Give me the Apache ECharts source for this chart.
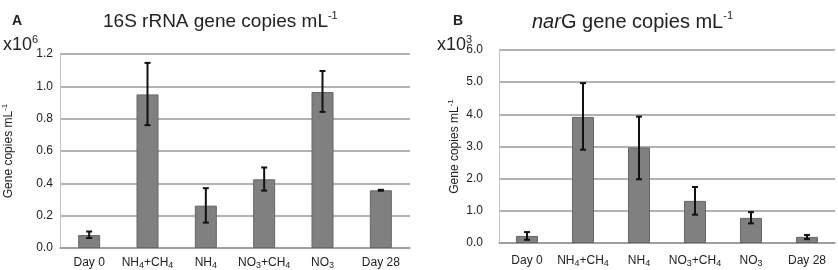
<!DOCTYPE html>
<html>
<head>
<meta charset="utf-8">
<script src="https://cdn.jsdelivr.net/npm/echarts@6/dist/echarts.min.js"></script>
<style>
  html, body { margin: 0; padding: 0; background: #fff; }
  #chart { width: 838px; height: 270px; }
</style>
</head>
<body>
<div id="chart"></div>
<script>
// categories shared by both panels
const categories = ['Day 0', 'NH{s|4}+CH{s|4}', 'NH{s|4}', 'NO{s|3}+CH{s|4}', 'NO{s|3}', 'Day 28']

// panel A: 16S rRNA (x10^6)
const rrnaMean = [0.08, 0.95, 0.262, 0.425, 0.965, 0.357]
const rrnaLow = [0.062, 0.76, 0.157, 0.355, 0.842, 0.354]
const rrnaHigh = [0.102, 1.145, 0.37, 0.498, 1.095, 0.36]
const rrnaTicks = [0, 0.2, 0.4, 0.6, 0.8, 1.0, 1.2]

// panel B: narG (x10^3)
const nargMean = [0.22, 3.92, 2.97, 1.31, 0.78, 0.19]
const nargLow = [0.1, 2.9, 1.98, 0.88, 0.61, 0.12]
const nargHigh = [0.34, 4.97, 3.93, 1.74, 0.96, 0.25]
const nargTicks = [0, 1, 2, 3, 4, 5, 6]

const textColor = '#222'
const font = 'Liberation Sans, Arial, sans-serif'

const subRich = {
  s: { fontSize: 9, lineHeight: 9, verticalAlign: 'bottom', color: textColor, fontFamily: font },
  p: { fontSize: 8, lineHeight: 8, verticalAlign: 'top', color: textColor, fontFamily: font },
}

const chart = echarts.init(document.getElementById('chart'))

const errorBars = (low, high, axisIdx) => ({
  type: 'custom',
  xAxisIndex: axisIdx,
  yAxisIndex: axisIdx,
  data: low.map((l, i) => [i, l, high[i]]),
  renderItem: (params, api) => {
    const lo = api.coord([api.value(0), api.value(1)])
    const hi = api.coord([api.value(0), api.value(2)])
    const half = 3
    const style = { stroke: '#111', lineWidth: 2 }
    return {
      type: 'group',
      children: [
        { type: 'line', shape: { x1: lo[0], y1: lo[1], x2: hi[0], y2: hi[1] }, style },
        { type: 'line', shape: { x1: hi[0] - half, y1: hi[1], x2: hi[0] + half, y2: hi[1] }, style },
        { type: 'line', shape: { x1: lo[0] - half, y1: lo[1], x2: lo[0] + half, y2: lo[1] }, style },
      ],
    }
  },
  z: 5,
})

const xAxisCfg = (gridIndex, margin) => ({
  type: 'category',
  gridIndex,
  data: categories,
  axisTick: { show: false },
  axisLine: { lineStyle: { color: '#999', width: 1.5 } },
  axisLabel: {
    color: textColor, fontSize: 12, fontFamily: font, margin, lineHeight: 15,
    interval: 0, rich: subRich,
  },
})

const yAxisCfg = (gridIndex, ticks, margin, nameGap) => ({
  type: 'value',
  gridIndex,
  min: ticks[0],
  max: ticks[ticks.length - 1],
  interval: ticks[1] - ticks[0],
  name: 'Gene copies mL{p|-1}',
  nameLocation: 'middle',
  nameGap,
  nameRotate: 90,
  nameTextStyle: { color: textColor, fontSize: 12, fontFamily: font, lineHeight: 15, rich: subRich },
  axisLine: { show: true, lineStyle: { color: '#c4c4c4', width: 1 } },
  axisTick: { show: false },
  axisLabel: { color: textColor, fontSize: 12, fontFamily: font, margin, formatter: (v) => v.toFixed(1) },
  splitLine: { lineStyle: { color: '#999', width: 1.5 } },
})

const titleRich = {
  p: { fontSize: 11, lineHeight: 11, verticalAlign: 'top', color: textColor, fontFamily: font },
  i: { fontSize: 20, fontStyle: 'italic', color: textColor, fontFamily: font, lineHeight: 24 },
}
const multRich = {
  p: { fontSize: 11, lineHeight: 11, verticalAlign: 'top', color: textColor, fontFamily: font },
}

chart.setOption({
  animation: false,
  title: [
    { text: 'A', left: 7, top: 9, textStyle: { fontSize: 14, fontWeight: 'bold', color: textColor, fontFamily: font } },
    { text: '16S rRNA gene copies mL{p|-1}', left: 98, top: 5,
      textStyle: { fontSize: 19, fontWeight: 'normal', color: textColor, fontFamily: font, lineHeight: 24, rich: titleRich } },
    { text: 'x10{p|6}', left: -2, top: 29,
      textStyle: { fontSize: 18, fontWeight: 'normal', color: textColor, fontFamily: font, lineHeight: 22, rich: multRich } },
    { text: 'B', left: 448, top: 9, textStyle: { fontSize: 14, fontWeight: 'bold', color: textColor, fontFamily: font } },
    { text: '{i|nar}G gene copies mL{p|-1}', left: 527, top: 5,
      textStyle: { fontSize: 20, fontWeight: 'normal', color: textColor, fontFamily: font, lineHeight: 24, rich: titleRich } },
    { text: 'x10{p|3}', left: 432, top: 29,
      textStyle: { fontSize: 18, fontWeight: 'normal', color: textColor, fontFamily: font, lineHeight: 22, rich: multRich } },
  ],
  grid: [
    { left: 60, right: 428, top: 54, bottom: 22 },
    { left: 499, right: 3, top: 50, bottom: 27 },
  ],
  xAxis: [xAxisCfg(0, 7), xAxisCfg(1, 10)],
  yAxis: [yAxisCfg(0, rrnaTicks, 7, 44), yAxisCfg(1, nargTicks, 16, 37)],
  series: [
    {
      type: 'bar', xAxisIndex: 0, yAxisIndex: 0, data: rrnaMean, barWidth: 22,
      itemStyle: { color: '#808080', borderColor: '#676767', borderWidth: 1 },
    },
    errorBars(rrnaLow, rrnaHigh, 0),
    {
      type: 'bar', xAxisIndex: 1, yAxisIndex: 1, data: nargMean, barWidth: 22,
      itemStyle: { color: '#808080', borderColor: '#676767', borderWidth: 1 },
    },
    errorBars(nargLow, nargHigh, 1),
  ],
})
</script>
</body>
</html>
